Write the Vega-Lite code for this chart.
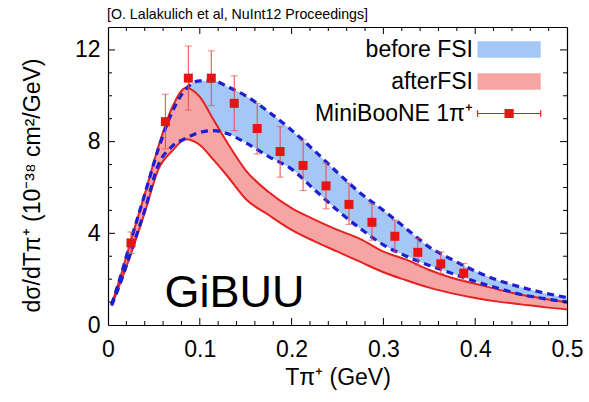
{
  "$schema": "https://vega.github.io/schema/vega-lite/v6.json",
  "width": 459,
  "height": 298,
  "autosize": {"type": "none"},
  "padding": {"left": 108, "top": 27, "right": 22, "bottom": 77},
  "background": "white",
  "title": {"text": "[O. Lalakulich et al, NuInt12 Proceedings]", "anchor": "start", "frame": "group", "font": "Liberation Sans", "fontSize": 14.2, "fontWeight": "normal", "color": "#000", "offset": 5, "dx": -1},
  "config": {"view": {"stroke": null}, "font": "Liberation Sans"},
  "datasets": {
    "before": [
      {"x": 0.004, "lo": 0.85, "hi": 0.9},
      {"x": 0.015, "lo": 2.0, "hi": 2.3},
      {"x": 0.025, "lo": 3.2, "hi": 3.7},
      {"x": 0.04, "lo": 5.0, "hi": 5.7},
      {"x": 0.055, "lo": 7.0, "hi": 7.7},
      {"x": 0.07, "lo": 7.8, "hi": 9.3},
      {"x": 0.085, "lo": 8.15, "hi": 10.3},
      {"x": 0.1, "lo": 8.4, "hi": 10.65},
      {"x": 0.115, "lo": 8.48, "hi": 10.65},
      {"x": 0.13, "lo": 8.35, "hi": 10.4},
      {"x": 0.15, "lo": 7.95, "hi": 10.0},
      {"x": 0.175, "lo": 7.35, "hi": 9.3},
      {"x": 0.2, "lo": 6.8, "hi": 8.5},
      {"x": 0.225, "lo": 5.9, "hi": 7.6},
      {"x": 0.25, "lo": 5.0, "hi": 6.65},
      {"x": 0.275, "lo": 4.2, "hi": 5.75},
      {"x": 0.3, "lo": 3.5, "hi": 5.0},
      {"x": 0.325, "lo": 3.0, "hi": 4.2},
      {"x": 0.35, "lo": 2.6, "hi": 3.4},
      {"x": 0.375, "lo": 2.25, "hi": 2.85},
      {"x": 0.4, "lo": 1.9, "hi": 2.35},
      {"x": 0.425, "lo": 1.6, "hi": 1.95},
      {"x": 0.45, "lo": 1.33, "hi": 1.65},
      {"x": 0.475, "lo": 1.15, "hi": 1.4},
      {"x": 0.5, "lo": 1.0, "hi": 1.2}
    ],
    "after": [
      {"x": 0.004, "lo": 0.85, "hi": 0.9},
      {"x": 0.015, "lo": 2.0, "hi": 2.3},
      {"x": 0.025, "lo": 3.1, "hi": 3.7},
      {"x": 0.04, "lo": 4.9, "hi": 5.7},
      {"x": 0.055, "lo": 6.8, "hi": 7.8},
      {"x": 0.07, "lo": 7.6, "hi": 9.5},
      {"x": 0.085, "lo": 8.1, "hi": 10.35},
      {"x": 0.1, "lo": 7.85, "hi": 9.95},
      {"x": 0.115, "lo": 7.2, "hi": 8.95},
      {"x": 0.13, "lo": 6.5, "hi": 7.95},
      {"x": 0.15, "lo": 5.5, "hi": 6.75},
      {"x": 0.175, "lo": 4.8, "hi": 5.8},
      {"x": 0.2, "lo": 4.15, "hi": 5.1},
      {"x": 0.225, "lo": 3.65, "hi": 4.6},
      {"x": 0.25, "lo": 3.2, "hi": 4.15},
      {"x": 0.275, "lo": 2.75, "hi": 3.75},
      {"x": 0.3, "lo": 2.3, "hi": 3.2},
      {"x": 0.325, "lo": 1.95, "hi": 2.85},
      {"x": 0.35, "lo": 1.63, "hi": 2.4},
      {"x": 0.375, "lo": 1.38, "hi": 2.05},
      {"x": 0.4, "lo": 1.18, "hi": 1.8},
      {"x": 0.425, "lo": 1.02, "hi": 1.55},
      {"x": 0.45, "lo": 0.9, "hi": 1.32},
      {"x": 0.475, "lo": 0.78, "hi": 1.15},
      {"x": 0.5, "lo": 0.68, "hi": 1.0}
    ],
    "miniboone": [
      {"x": 0.025, "y": 3.58, "ymin": 3.12, "ymax": 4.06},
      {"x": 0.0625, "y": 8.87, "ymin": 7.68, "ymax": 10.07},
      {"x": 0.0875, "y": 10.77, "ymin": 9.38, "ymax": 12.17},
      {"x": 0.1125, "y": 10.77, "ymin": 9.57, "ymax": 11.96},
      {"x": 0.1375, "y": 9.67, "ymin": 8.48, "ymax": 10.87},
      {"x": 0.1625, "y": 8.57, "ymin": 7.46, "ymax": 9.67},
      {"x": 0.1875, "y": 7.57, "ymin": 6.45, "ymax": 8.65},
      {"x": 0.2125, "y": 6.96, "ymin": 5.87, "ymax": 8.07},
      {"x": 0.2375, "y": 6.07, "ymin": 5.07, "ymax": 7.06},
      {"x": 0.2625, "y": 5.26, "ymin": 4.39, "ymax": 6.19},
      {"x": 0.2875, "y": 4.48, "ymin": 3.7, "ymax": 5.29},
      {"x": 0.3125, "y": 3.87, "ymin": 3.19, "ymax": 4.57},
      {"x": 0.3375, "y": 3.17, "ymin": 2.61, "ymax": 3.77},
      {"x": 0.3625, "y": 2.67, "ymin": 2.25, "ymax": 3.19},
      {"x": 0.3875, "y": 2.26, "ymin": 1.93, "ymax": 2.68}
    ],
    "xmajor": [{"v": 0.1}, {"v": 0.2}, {"v": 0.3}, {"v": 0.4}],
    "xminor": [{"v": 0.02}, {"v": 0.04}, {"v": 0.06}, {"v": 0.08}, {"v": 0.12}, {"v": 0.14}, {"v": 0.16}, {"v": 0.18}, {"v": 0.22}, {"v": 0.24}, {"v": 0.26}, {"v": 0.28}, {"v": 0.32}, {"v": 0.34}, {"v": 0.36}, {"v": 0.38}, {"v": 0.42}, {"v": 0.44}, {"v": 0.46}, {"v": 0.48}],
    "ymajor": [{"v": 4}, {"v": 8}, {"v": 12}],
    "yminor": [{"v": 1}, {"v": 2}, {"v": 3}, {"v": 5}, {"v": 6}, {"v": 7}, {"v": 9}, {"v": 10}, {"v": 11}]
  },
  "layer": [
    {
      "data": {"name": "before"},
      "mark": {"type": "area", "interpolate": "monotone", "opacity": 1},
      "encoding": {
        "x": {"field": "x", "type": "quantitative",
          "scale": {"domain": [0, 0.5], "nice": false, "zero": false},
          "axis": {"orient": "bottom", "values": [0, 0.1, 0.2, 0.3, 0.4, 0.5], "format": "~g",
            "ticks": false, "domainColor": "#000", "domainWidth": 1.2, "grid": false,
            "labelFont": "Liberation Sans", "labelFontSize": 23, "labelColor": "#000", "labelPadding": 13, "labelOverlap": false, "labelFlush": false,
            "title": "Tπ⁺  (GeV)", "titleFont": "Liberation Sans", "titleFontSize": 23, "titleFontWeight": "normal", "titleColor": "#000", "titlePadding": 5}},
        "y": {"field": "hi", "type": "quantitative",
          "scale": {"domain": [0, 13], "nice": false, "zero": false},
          "axis": {"orient": "left", "values": [0, 4, 8, 12],
            "ticks": false, "domainColor": "#000", "domainWidth": 1.2, "grid": false,
            "labelFont": "Liberation Sans", "labelFontSize": 23, "labelColor": "#000", "labelPadding": 8, "labelOverlap": false, "labelFlush": false,
            "title": "dσ/dTπ⁺  (10⁻³⁸ cm²/GeV)", "titleFont": "Liberation Sans", "titleFontSize": 23, "titleFontWeight": "normal", "titleColor": "#000",
            "titleX": -76, "titleY": 158, "titleBaseline": "middle", "titleAlign": "center", "titleAngle": -90}},
        "y2": {"field": "lo"},
        "color": {"datum": "before FSI", "type": "nominal",
          "scale": {"domain": ["before FSI", "afterFSI", "MiniBooNE 1π⁺"], "range": ["#a4c7f6", "#f7a4a4", "#e81414"]},
          "legend": {"orient": "none", "legendX": 358, "legendY": 11, "title": null, "padding": 0,
            "labelFont": "Liberation Sans", "labelFontSize": 23, "labelColor": "#000", "labelAlign": "right", "labelOffset": -16, "labelLimit": 400,
            "symbolSize": 256, "rowPadding": 8, "symbolType": "M0,-1.04H7.9V1.04H0Z", "symbolOpacity": 1,
            "encode": {"symbols": {"update": {
              "shape": {"signal": "datum.value === 'MiniBooNE 1π⁺' ? 'M0,0H7.9M0,-0.4V0.4M7.9,-0.4V0.4M3.45,-0.5H4.45V0.5H3.45Z' : 'M0,-1.04H7.9V1.04H0Z'"},
              "stroke": {"signal": "datum.value === 'MiniBooNE 1π⁺' ? '#e81414' : 'transparent'"},
              "strokeWidth": {"value": 1.2},
              "opacity": {"value": 1}
            }}}}}
      }
    },
    {
      "data": {"name": "after"},
      "mark": {"type": "area", "interpolate": "monotone", "opacity": 1, "color": "#f7a4a4"},
      "encoding": {
        "x": {"field": "x", "type": "quantitative",
          "axis": {"orient": "top", "values": [0, 0.5], "labels": false, "title": null,
            "ticks": false, "domainColor": "#000", "domainWidth": 1.2, "grid": false}},
        "y": {"field": "hi", "type": "quantitative",
          "axis": {"orient": "right", "values": [0, 13], "labels": false, "title": null,
            "ticks": false, "domainColor": "#000", "domainWidth": 1.2, "grid": false}},
        "y2": {"field": "lo"}
      }
    },
    {
      "data": {"name": "after"},
      "mark": {"type": "line", "interpolate": "monotone", "color": "#e52222", "strokeWidth": 2},
      "encoding": {
        "x": {"field": "x", "type": "quantitative", "axis": null},
        "y": {"field": "hi", "type": "quantitative", "axis": null}
      }
    },
    {
      "data": {"name": "after"},
      "mark": {"type": "line", "interpolate": "monotone", "color": "#e52222", "strokeWidth": 2},
      "encoding": {
        "x": {"field": "x", "type": "quantitative", "axis": null},
        "y": {"field": "lo", "type": "quantitative", "axis": null}
      }
    },
    {
      "data": {"name": "before"},
      "mark": {"type": "line", "interpolate": "monotone", "color": "#1f1fd0", "strokeWidth": 3.2, "strokeDash": [7, 5]},
      "encoding": {
        "x": {"field": "x", "type": "quantitative", "axis": null},
        "y": {"field": "hi", "type": "quantitative", "axis": null}
      }
    },
    {
      "data": {"name": "before"},
      "mark": {"type": "line", "interpolate": "monotone", "color": "#1f1fd0", "strokeWidth": 3.2, "strokeDash": [7, 5]},
      "encoding": {
        "x": {"field": "x", "type": "quantitative", "axis": null},
        "y": {"field": "lo", "type": "quantitative", "axis": null}
      }
    },
    {
      "data": {"name": "xmajor"},
      "mark": {"type": "tick", "orient": "vertical", "color": "#000", "size": 7, "thickness": 1, "opacity": 1},
      "encoding": {
        "x": {"field": "v", "type": "quantitative", "axis": null},
        "y": {"datum": 0.153, "type": "quantitative", "axis": null}
      }
    },
    {
      "data": {"name": "xmajor"},
      "mark": {"type": "tick", "orient": "vertical", "color": "#000", "size": 7, "thickness": 1, "opacity": 1},
      "encoding": {
        "x": {"field": "v", "type": "quantitative", "axis": null},
        "y": {"datum": 12.847, "type": "quantitative", "axis": null}
      }
    },
    {
      "data": {"name": "xminor"},
      "mark": {"type": "tick", "orient": "vertical", "color": "#000", "size": 4, "thickness": 1, "opacity": 1},
      "encoding": {
        "x": {"field": "v", "type": "quantitative", "axis": null},
        "y": {"datum": 0.087, "type": "quantitative", "axis": null}
      }
    },
    {
      "data": {"name": "xminor"},
      "mark": {"type": "tick", "orient": "vertical", "color": "#000", "size": 4, "thickness": 1, "opacity": 1},
      "encoding": {
        "x": {"field": "v", "type": "quantitative", "axis": null},
        "y": {"datum": 12.913, "type": "quantitative", "axis": null}
      }
    },
    {
      "data": {"name": "ymajor"},
      "mark": {"type": "tick", "orient": "horizontal", "color": "#000", "size": 7, "thickness": 1, "opacity": 1},
      "encoding": {
        "y": {"field": "v", "type": "quantitative", "axis": null},
        "x": {"datum": 0.0038, "type": "quantitative", "axis": null}
      }
    },
    {
      "data": {"name": "ymajor"},
      "mark": {"type": "tick", "orient": "horizontal", "color": "#000", "size": 7, "thickness": 1, "opacity": 1},
      "encoding": {
        "y": {"field": "v", "type": "quantitative", "axis": null},
        "x": {"datum": 0.4962, "type": "quantitative", "axis": null}
      }
    },
    {
      "data": {"name": "yminor"},
      "mark": {"type": "tick", "orient": "horizontal", "color": "#000", "size": 4, "thickness": 1, "opacity": 1},
      "encoding": {
        "y": {"field": "v", "type": "quantitative", "axis": null},
        "x": {"datum": 0.0022, "type": "quantitative", "axis": null}
      }
    },
    {
      "data": {"name": "yminor"},
      "mark": {"type": "tick", "orient": "horizontal", "color": "#000", "size": 4, "thickness": 1, "opacity": 1},
      "encoding": {
        "y": {"field": "v", "type": "quantitative", "axis": null},
        "x": {"datum": 0.4978, "type": "quantitative", "axis": null}
      }
    },
    {
      "data": {"name": "miniboone"},
      "mark": {"type": "rule", "color": "#e84a4a", "strokeWidth": 1},
      "encoding": {
        "x": {"field": "x", "type": "quantitative", "axis": null},
        "y": {"field": "ymin", "type": "quantitative", "axis": null},
        "y2": {"field": "ymax"}
      }
    },
    {
      "data": {"name": "miniboone"},
      "mark": {"type": "tick", "orient": "horizontal", "color": "#e84a4a", "size": 7, "thickness": 1},
      "encoding": {
        "x": {"field": "x", "type": "quantitative", "axis": null},
        "y": {"field": "ymax", "type": "quantitative", "axis": null}
      }
    },
    {
      "data": {"name": "miniboone"},
      "mark": {"type": "tick", "orient": "horizontal", "color": "#e84a4a", "size": 7, "thickness": 1},
      "encoding": {
        "x": {"field": "x", "type": "quantitative", "axis": null},
        "y": {"field": "ymin", "type": "quantitative", "axis": null}
      }
    },
    {
      "data": {"name": "miniboone"},
      "mark": {"type": "square", "size": 81, "filled": true, "opacity": 1, "color": "#e81414"},
      "encoding": {
        "x": {"field": "x", "type": "quantitative", "axis": null},
        "y": {"field": "y", "type": "quantitative", "axis": null}
      }
    },
    {
      "data": {"values": [{}]},
      "mark": {"type": "text", "align": "left", "baseline": "alphabetic", "font": "Liberation Sans", "fontSize": 45, "color": "#000"},
      "encoding": {
        "x": {"datum": 0.0615, "type": "quantitative", "axis": null},
        "y": {"datum": 0.8, "type": "quantitative", "axis": null},
        "text": {"value": "GiBUU"}
      }
    }
  ],
  "resolve": {"axis": {"x": "independent", "y": "independent"}}
}
